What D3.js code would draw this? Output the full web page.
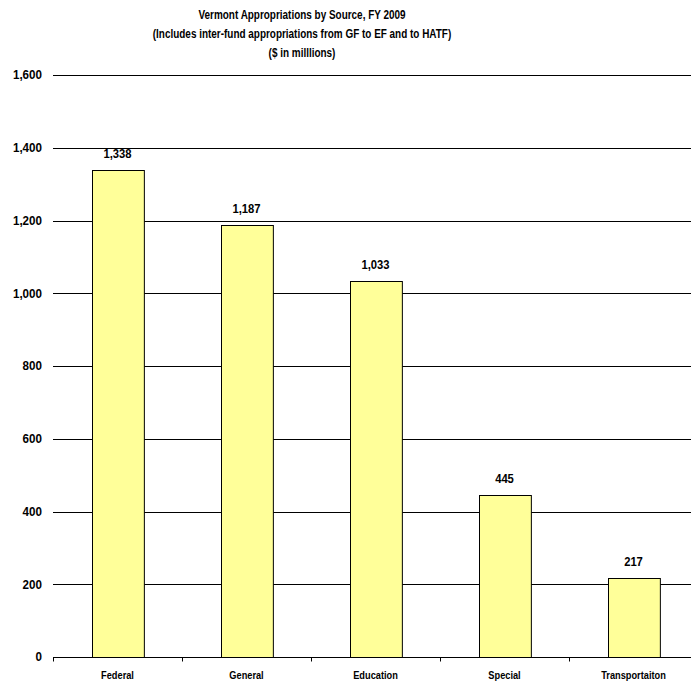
<!DOCTYPE html>
<html>
<head>
<meta charset="utf-8">
<script src="https://cdn.jsdelivr.net/npm/d3@7"></script>
<style>
  html, body { margin: 0; padding: 0; background: #fff; }
  svg { display: block; }
  text { font-family: "Liberation Sans Narrow", "Arial Narrow", "Liberation Sans", Arial, sans-serif; font-weight: bold; fill: #000; }
</style>
</head>
<body>
<svg id="chart" width="691" height="684"></svg>
<script>
// Appropriations by funding source ($ in millions)
const categories = ["Federal", "General", "Education", "Special", "Transportaiton"];
const values = [1338, 1187, 1033, 445, 217];
const yTicks = [0, 200, 400, 600, 800, 1000, 1200, 1400, 1600];
const titleLines = [
  "Vermont Appropriations by Source, FY 2009",
  "(Includes inter-fund appropriations from GF to EF and to HATF)",
  "($ in milllions)"
];

const svg = d3.select("#chart");
const margin = { left: 53, right: -7, top: 75, bottom: 27 };
const W = 691, H = 684;

const x = d3.scaleBand()
  .domain(categories)
  .range([margin.left, W - margin.right])
  .paddingInner(0.598)
  .paddingOuter(0.299);

const y = d3.scaleLinear()
  .domain([0, 1600])
  .range([H - margin.bottom, margin.top]);

const fmt = d3.format(",");

// Condensed lettering: place each label at (px, py) and narrow it horizontally
const place = (px, py, sx) => `translate(${px},${py}) scale(${sx},1)`;

// Title
svg.append("g").selectAll("text")
  .data(titleLines)
  .join("text")
  .attr("transform", (d, i) => place(302, 19 + i * 19, 0.765))
  .attr("text-anchor", "middle")
  .attr("font-size", 13)
  .text(d => d);

// Horizontal gridlines
svg.append("g").selectAll("line")
  .data(yTicks.filter(t => t > 0))
  .join("line")
  .attr("x1", margin.left)
  .attr("x2", W)
  .attr("y1", d => Math.round(y(d)) + 0.5)
  .attr("y2", d => Math.round(y(d)) + 0.5)
  .attr("stroke", "#000")
  .attr("stroke-width", 1);

// Y axis labels
svg.append("g").selectAll("text")
  .data(yTicks)
  .join("text")
  .attr("transform", d => place(42, y(d), 0.93))
  .attr("dy", "0.35em")
  .attr("text-anchor", "end")
  .attr("font-size", 12.5)
  .text(d => fmt(d));

// Bars
svg.append("g").selectAll("rect")
  .data(values)
  .join("rect")
  .attr("x", (d, i) => Math.round(x(categories[i])) + 0.5)
  .attr("y", d => Math.round(y(d)) + 0.5)
  .attr("width", x.bandwidth())
  .attr("height", d => Math.round(y(0)) - Math.round(y(d)))
  .attr("fill", "#FFFF99")
  .attr("stroke", "#000")
  .attr("stroke-width", 1);

// Value labels
svg.append("g").selectAll("text")
  .data(values)
  .join("text")
  .attr("transform", (d, i) => place(x(categories[i]) + x.bandwidth() / 2, y(d) - 12, 0.9))
  .attr("text-anchor", "middle")
  .attr("font-size", 12.5)
  .text(d => fmt(d));

// X axis line with tick marks at band boundaries
const step = x.step();
const x0 = margin.left;
const axisY = Math.round(y(0)) + 0.5;
svg.append("line")
  .attr("x1", x0).attr("x2", W)
  .attr("y1", axisY).attr("y2", axisY)
  .attr("stroke", "#000");
svg.append("g").selectAll("line")
  .data(d3.range(categories.length + 1))
  .join("line")
  .attr("x1", i => Math.round(x0 + i * step) + 0.5)
  .attr("x2", i => Math.round(x0 + i * step) + 0.5)
  .attr("y1", axisY)
  .attr("y2", axisY + 4)
  .attr("stroke", "#000");

// Category labels
svg.append("g").selectAll("text")
  .data(categories)
  .join("text")
  .attr("transform", d => place(x(d) + x.bandwidth() / 2, 679, 0.88))
  .attr("text-anchor", "middle")
  .attr("font-size", 10.5)
  .text(d => d);
</script>
</body>
</html>
